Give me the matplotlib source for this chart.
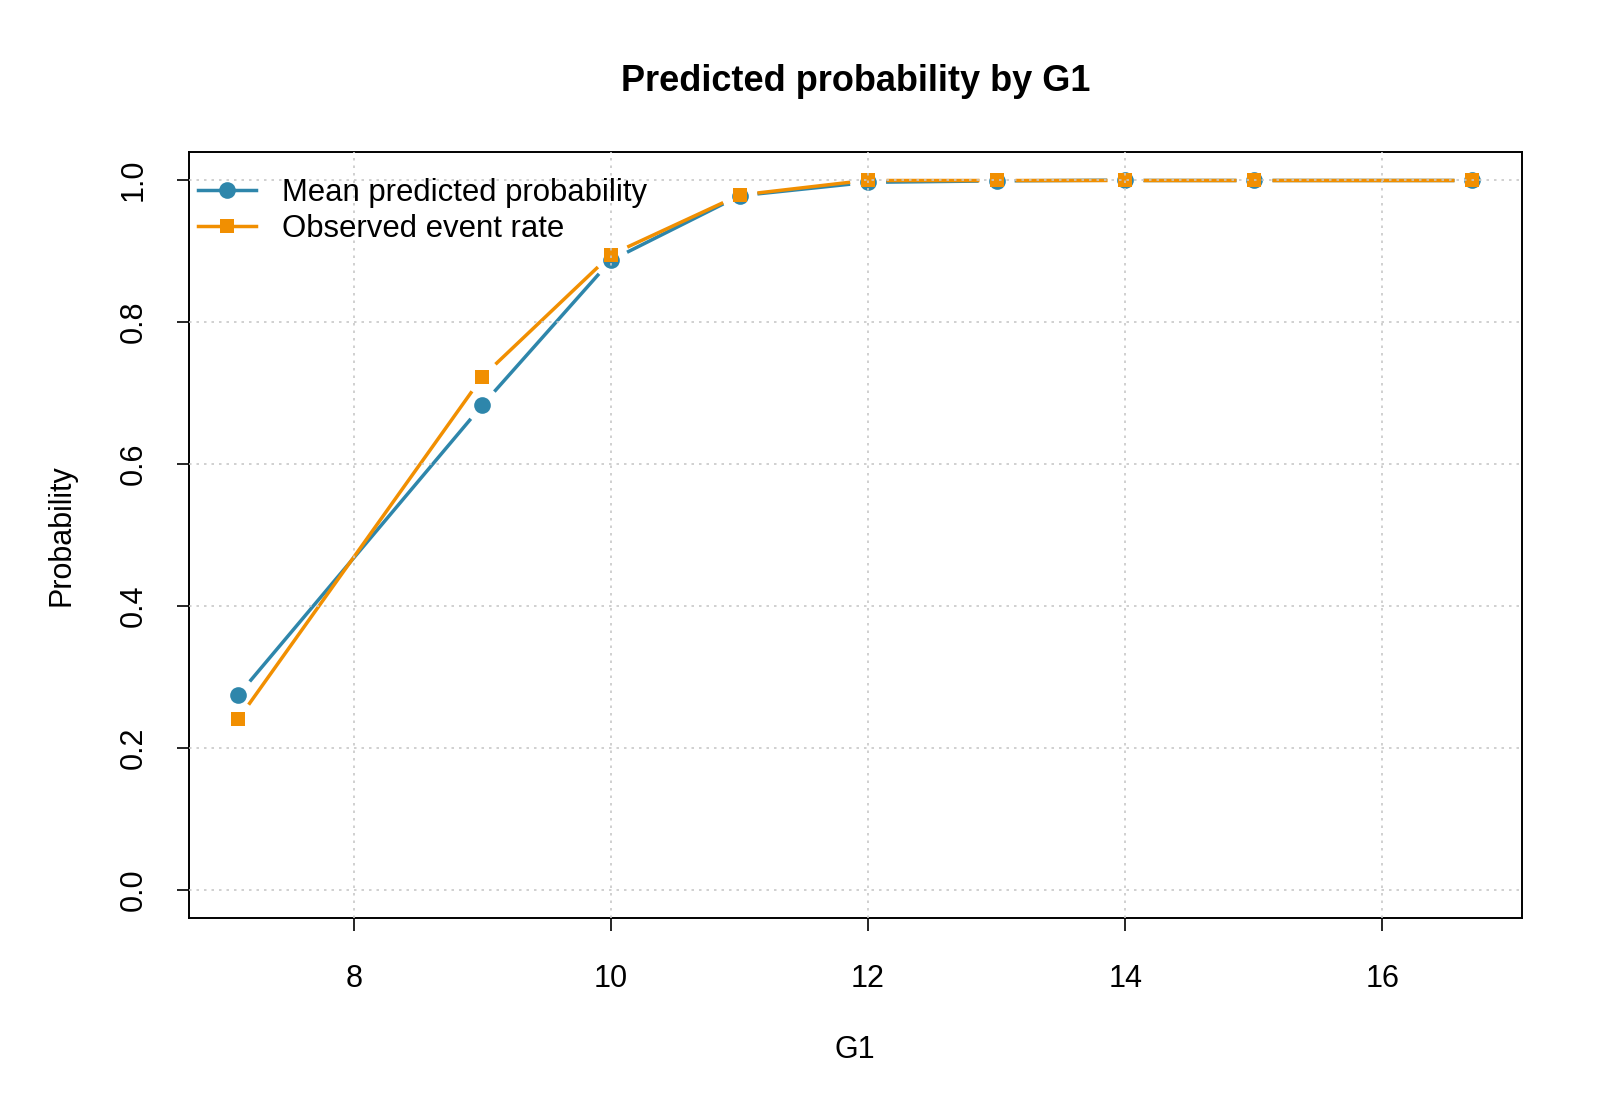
import matplotlib
matplotlib.use("Agg")
import matplotlib.pyplot as plt
from matplotlib.lines import Line2D
import numpy as np

plt.rcParams["font.family"] = ["Liberation Sans", "DejaVu Sans"]

g1 = [7.1, 9, 10, 11, 12, 13, 14, 15, 16.7]
mean_pred = [0.274, 0.683, 0.887, 0.978, 0.997, 0.999, 1.0, 1.0, 1.0]
observed = [0.240, 0.723, 0.895, 0.979, 1.0, 1.0, 1.0, 1.0, 1.0]
x_ticks = [8, 10, 12, 14, 16]
y_ticks = [0.0, 0.2, 0.4, 0.6, 0.8, 1.0]

BLUE = "#2E86AB"
ORANGE = "#F18F01"
GAP = 18  # px gap around points, like R type="b"

fig = plt.figure(figsize=(16, 11.08), dpi=100)
ax = fig.add_axes([0.118, 0.1715, 0.833, 0.6915])
span = g1[-1] - g1[0]
ax.set_xlim(g1[0] - 0.04 * span, g1[-1] + 0.04 * span)
ax.set_ylim(-0.04, 1.04)


def type_b(x, y, color, marker, ms):
    pts = ax.transData.transform(np.column_stack([x, y]))
    inv = ax.transData.inverted()
    for p0, p1 in zip(pts[:-1], pts[1:]):
        d = p1 - p0
        L = np.hypot(*d)
        if L <= 2 * GAP:
            continue
        u = d / L
        a, b = inv.transform([p0 + u * GAP, p1 - u * GAP])
        ax.plot([a[0], b[0]], [a[1], b[1]], color=color, lw=2.5,
                solid_capstyle="butt", zorder=2)
    ax.plot(x, y, ls="none", marker=marker, ms=ms, color=color,
            markeredgewidth=0, zorder=3)


type_b(g1, mean_pred, BLUE, "o", 12)
type_b(g1, observed, ORANGE, "s", 10)

for v in x_ticks:
    ax.axvline(v, color="#c8c8c8", ls=(0, (1.5, 3)), lw=1.2, zorder=4)
for v in y_ticks:
    ax.axhline(v, color="#c8c8c8", ls=(0, (1.5, 3)), lw=1.2, zorder=4)

ax.set_xticks(x_ticks)
ax.set_yticks(y_ticks)
ax.set_xticklabels([str(v) for v in x_ticks])
ax.set_yticklabels([f"{v:.1f}" for v in y_ticks], rotation=90, va="center")
ax.tick_params(direction="out", length=9, width=1.2, labelsize=22)
ax.tick_params(axis="x", pad=24)
ax.tick_params(axis="y", pad=20)
for s in ax.spines.values():
    s.set_linewidth(1.4)

ax.set_xlabel("G1", fontsize=22, labelpad=30)
ax.set_ylabel("Probability", fontsize=22, labelpad=30)
ax.set_title("Predicted probability by G1", fontsize=26, fontweight="bold", pad=44)

handles = [
    Line2D([], [], color=BLUE, lw=2.5, marker="o", ms=12, markeredgewidth=0),
    Line2D([], [], color=ORANGE, lw=2.5, marker="s", ms=10, markeredgewidth=0),
]
ax.legend(handles, ["Mean predicted probability", "Observed event rate"],
          loc="upper left", frameon=False, fontsize=22.4, handlelength=1.85,
          handletextpad=0.85, labelspacing=0.2, borderaxespad=0.2,
          borderpad=0.4, bbox_to_anchor=(-0.007, 0.99))

fig.savefig("out.png", dpi=100)
